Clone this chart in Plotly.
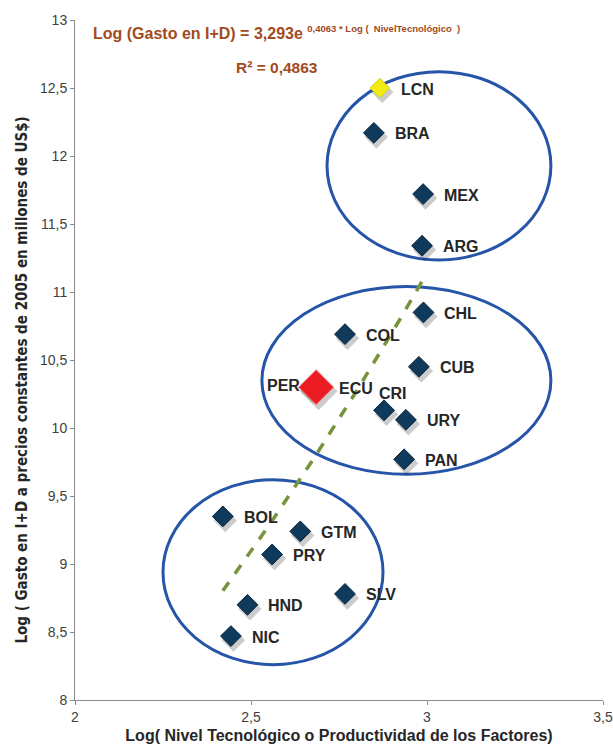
import plotly.graph_objects as go
import numpy as np

# Country codes with log technology level (x) and log R&D spending (y)
paises = ["LCN", "BRA", "MEX", "ARG", "CHL", "COL", "CUB", "PER", "ECU",
          "CRI", "URY", "PAN", "BOL", "GTM", "PRY", "SLV", "HND", "NIC"]
log_nivel_tec = [2.866, 2.849, 2.989, 2.986, 2.990, 2.767, 2.977, 2.668, 2.685,
                 2.878, 2.940, 2.935, 2.420, 2.640, 2.560, 2.767, 2.490, 2.443]
log_gasto_id = [12.50, 12.17, 11.72, 11.34, 10.85, 10.69, 10.45, 10.30, 10.30,
                10.13, 10.06, 9.77, 9.35, 9.24, 9.07, 8.78, 8.70, 8.47]

# Exponential fit: y = a * e^(b*x)
coef_a = 3.293
coef_b = 0.4063
r2 = 0.4863

# Groups enclosed by ellipses: (x0, y0, x1, y1)
grupos = [
    (2.716, 11.235, 3.352, 12.62),
    (2.531, 9.66, 3.352, 11.04),
    (2.250, 8.26, 2.875, 9.62),
]

azul = "#0f3a5c"
fig = go.Figure()

# Trendline over the range of the observed countries
xs = np.linspace(min(log_nivel_tec), max(log_nivel_tec), 60)
fig.add_trace(go.Scatter(
    x=xs, y=coef_a * np.exp(coef_b * xs), mode="lines",
    line=dict(color="#77933c", width=3.5, dash="dash"),
    hoverinfo="skip", showlegend=False))

for (x0, y0, x1, y1) in grupos:
    fig.add_shape(type="circle", xref="x", yref="y", x0=x0, y0=y0, x1=x1, y1=y1,
                  line=dict(color="#2554a8", width=3), layer="below")

colores = []
tamanos = []
bordes = []
for p in paises:
    if p == "LCN":
        colores.append("#f2ec12"); tamanos.append(15); bordes.append("#d8d010")
    elif p == "ECU":
        colores.append("#ec1c24"); tamanos.append(27); bordes.append("#f48a8a")
    else:
        colores.append(azul); tamanos.append(16); bordes.append("#082338")

# soft drop shadow under each marker
fig.add_trace(go.Scatter(
    x=[v + 0.007 for v in log_nivel_tec], y=[v - 0.03 for v in log_gasto_id],
    mode="markers", opacity=1,
    marker=dict(symbol="diamond", size=[t + 2 for t in tamanos], color="rgba(0,0,0,0.2)",
                opacity=1, line=dict(width=0)),
    hoverinfo="skip", showlegend=False))

orden = [i for i, p in enumerate(paises) if p != "ECU"] + [paises.index("ECU")]
fig.add_trace(go.Scatter(
    x=[log_nivel_tec[i] for i in orden], y=[log_gasto_id[i] for i in orden],
    mode="markers", opacity=1,
    marker=dict(symbol="diamond", size=[tamanos[i] for i in orden],
                color=[colores[i] for i in orden], opacity=1,
                line=dict(width=1, color=[bordes[i] for i in orden])),
    text=[paises[i] for i in orden], showlegend=False))

# label offsets in pixels (xshift, yshift, anchor)
desplazamientos = {"PER": (-8, 2, "right"), "CRI": (-7, 17, "left"), "ECU": (21, -1, "left")}
for p, xv, yv in zip(paises, log_nivel_tec, log_gasto_id):
    dx, dy, anc = desplazamientos.get(p, (19, -1, "left"))
    fig.add_annotation(x=xv, y=yv, text=p, showarrow=False, xanchor=anc, yanchor="middle",
                       xshift=dx, yshift=dy,
                       font=dict(family="Liberation Sans, Arial", size=16, color="#262626",
                                 weight="bold"))

marron = "#a24a1d"
fig.add_annotation(
    xref="paper", yref="paper", x=0.030, y=0.982, xanchor="left", yanchor="middle",
    showarrow=False,
    text=("Log (Gasto en I+D) = 3,293e <sup><span style='font-size:9.5px'>0,4063 * Log (  "
          "NivelTecnológico  )</span></sup>"),
    font=dict(family="Liberation Sans, Arial", size=16, color=marron, weight="bold"))
fig.add_annotation(
    xref="paper", yref="paper", x=0.302, y=0.930, xanchor="left", yanchor="middle",
    showarrow=False, text="R² = 0,4863",
    font=dict(family="Liberation Sans, Arial", size=15.5, color=marron, weight="bold"))

# vertical axis title
fig.add_annotation(
    xref="paper", yref="paper", x=-0.100, y=0.470, xanchor="center", yanchor="middle",
    showarrow=False, textangle=-90,
    text="Log ( Gasto en I+D a precios constantes de 2005 en millones de US$)",
    font=dict(family="DejaVu Sans Condensed, Liberation Sans Narrow, Liberation Sans",
              size=15, color="#262626", weight="bold"))

eje = dict(showgrid=False, zeroline=False, showline=True, linecolor="#8c8c8c", linewidth=1,
           ticks="outside", ticklen=4, tickcolor="#8c8c8c", automargin=False,
           tickfont=dict(family="Liberation Sans, Arial", size=14, color="#404040"))

fig.update_layout(
    width=613, height=755,
    margin=dict(l=75, r=10, t=20, b=55),
    paper_bgcolor="white", plot_bgcolor="white",
    separators=",.",
    xaxis=dict(range=[2, 3.5], tickvals=[2, 2.5, 3, 3.5],
               title=dict(text="Log( Nivel Tecnológico o Productividad de los Factores)",
                          standoff=6,
                          font=dict(family="Liberation Sans, Arial",
                                    size=16, color="#262626", weight="bold")),
               **eje),
    yaxis=dict(range=[8, 13], dtick=0.5, **eje),
)

fig.write_html("out.html")
